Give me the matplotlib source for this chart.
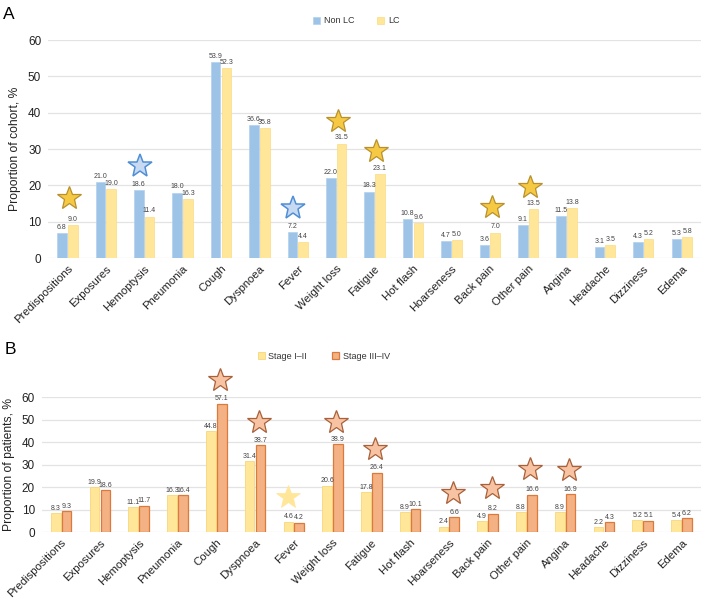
import numpy as np
import matplotlib.pyplot as plt

plt.rcParams['font.family'] = ['Liberation Sans', 'DejaVu Sans']

symptoms = ["Predispositions", "Exposures", "Hemoptysis", "Pneumonia", "Cough",
            "Dyspnoea", "Fever", "Weight loss", "Fatigue", "Hot flash",
            "Hoarseness", "Back pain", "Other pain", "Angina", "Headache",
            "Dizziness", "Edema"]

# panel A: cohort
non_lc = [6.8, 21.0, 18.6, 18.0, 53.9, 36.6, 7.2, 22.0, 18.3, 10.8,
          4.7, 3.6, 9.1, 11.5, 3.1, 4.3, 5.3]
lc = [9.0, 19.0, 11.4, 16.3, 52.3, 35.8, 4.4, 31.5, 23.1, 9.6,
      5.0, 7.0, 13.5, 13.8, 3.5, 5.2, 5.8]
# significance stars: (category, height, series that is higher)
stars_a = [("Predispositions", 16.5, "LC"), ("Hemoptysis", 25.4, "Non LC"),
           ("Fever", 13.9, "Non LC"), ("Weight loss", 37.7, "LC"),
           ("Fatigue", 29.5, "LC"), ("Back pain", 14.0, "LC"),
           ("Other pain", 19.5, "LC")]

# panel B: patients by stage
stage_early = [8.3, 19.9, 11.1, 16.3, 44.8, 31.4, 4.6, 20.6, 17.8, 8.9,
               2.4, 4.9, 8.8, 8.9, 2.2, 5.2, 5.4]
stage_late = [9.3, 18.6, 11.7, 16.4, 57.1, 38.7, 4.2, 38.9, 26.4, 10.1,
              6.6, 8.2, 16.6, 16.9, 4.3, 5.1, 6.2]
stars_b = [("Cough", 67.6, "late"), ("Dyspnoea", 49.0, "late"),
           ("Fever", 15.5, "early"), ("Weight loss", 49.0, "late"),
           ("Fatigue", 36.9, "late"), ("Hoarseness", 17.5, "late"),
           ("Back pain", 19.5, "late"), ("Other pain", 28.0, "late"),
           ("Angina", 27.6, "late")]

blue = "#9DC3E6"
yellow = "#FFE699"
orange = "#F4B183"

fig = plt.figure(figsize=(7.08, 6), dpi=100)
x = np.arange(len(symptoms))
w = 0.25
off = 0.14


def style_axes(ax, ylabel):
    ax.set_xlim(-0.5, len(symptoms) - 0.5)
    ax.set_ylim(0, 60)
    ax.set_yticks(range(0, 61, 10))
    ax.set_xticks(x)
    ax.set_xticklabels(symptoms, rotation=45, ha='right', rotation_mode='anchor',
                       fontsize=8.2, color='#222222')
    ax.tick_params(axis='y', length=0, labelsize=8.5, colors='#222222', pad=5)
    ax.tick_params(axis='x', length=0, pad=4)
    for s in ax.spines.values():
        s.set_visible(False)
    ax.grid(axis='y', color='#E3E3E3', linewidth=0.9)
    ax.set_axisbelow(True)
    ax.set_ylabel(ylabel, fontsize=8.7, color='#222222', labelpad=5)


def value_labels(ax, xs, vals):
    for xi, v in zip(xs, vals):
        ax.text(xi, v + 0.6, f"{v:.1f}", ha='center', va='bottom',
                fontsize=5, color='#444444')


# ---- A ----
ax1 = fig.add_axes([0.068, 0.57, 0.922, 0.3633])
ax1.bar(x - off, non_lc, w, color=blue, edgecolor='#B3D1EE', linewidth=0.5, label='Non LC')
ax1.bar(x + off, lc, w, color=yellow, edgecolor='#FBDC84', linewidth=0.5, label='LC')
value_labels(ax1, x - off, non_lc)
value_labels(ax1, x + off, lc)
for name, h, ser in stars_a:
    i = symptoms.index(name)
    if ser == "LC":
        ax1.plot(i + 0.05, h, marker='*', ms=18, mfc='#F6C945', mec='#B8912C',
                 mew=0.9, clip_on=False)
    else:
        ax1.plot(i - 0.12, h, marker='*', ms=18, mfc='#C8DAF2', mec='#4F8FD6',
                 mew=1.1, clip_on=False)
style_axes(ax1, "Proportion of cohort, %")
ax1.legend(loc='lower center', bbox_to_anchor=(0.472, 1.03), ncol=2, frameon=False,
           fontsize=6.5, handlelength=0.75, handleheight=0.75, columnspacing=2.6,
           handletextpad=0.4, labelcolor='#333333')
fig.text(0.004, 0.989, "A", fontsize=12.5, va='top', ha='left')

# ---- B ----
ax2 = fig.add_axes([0.059, 0.1133, 0.931, 0.225])
ax2.bar(x - off, stage_early, w, color=yellow, edgecolor='#F8D77A', linewidth=0.6,
        label='Stage I–II')
ax2.bar(x + off, stage_late, w, color=orange, edgecolor='#DA7A3C', linewidth=0.9,
        label='Stage III–IV')
value_labels(ax2, x - off, stage_early)
value_labels(ax2, x + off, stage_late)
for name, h, ser in stars_b:
    i = symptoms.index(name)
    if ser == "late":
        ax2.plot(i + 0.1, h, marker='*', ms=18, mfc='#F8C3A2', mec='#A8613A',
                 mew=0.9, clip_on=False)
    else:
        ax2.plot(i - 0.15, h, marker='*', ms=18, mfc='#FFE699', mec='#FFE699',
                 mew=0.5, clip_on=False)
style_axes(ax2, "Proportion of patients, %")
ax2.legend(loc='lower center', bbox_to_anchor=(0.428, 1.21), ncol=2, frameon=False,
           fontsize=6.5, handlelength=0.75, handleheight=0.75, columnspacing=2.8,
           handletextpad=0.4, labelcolor='#333333')
fig.text(0.006, 0.43, "B", fontsize=12.5, va='top', ha='left')

fig.savefig("out.png", dpi=100)
